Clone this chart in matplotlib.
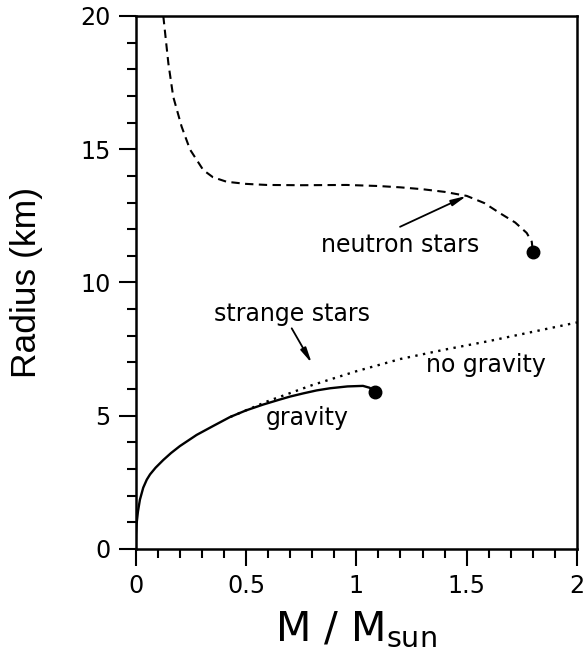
import numpy as np
import matplotlib
matplotlib.use("Agg")
import matplotlib.pyplot as plt

plt.rcParams['font.family'] = ['DejaVu Sans']
plt.rcParams['mathtext.fontset'] = 'dejavusans'

# neutron stars (dashed)
ns_mass = [0.125, 0.148, 0.170, 0.208, 0.246, 0.306, 0.35, 0.412, 0.5, 0.594,
           0.75, 0.956, 1.1, 1.2, 1.3, 1.4, 1.5, 1.58, 1.651, 1.72, 1.772, 1.795, 1.80]
ns_radius = [20.0, 18.22, 16.97, 15.85, 14.99, 14.22, 13.95, 13.78, 13.70, 13.66,
             13.65, 13.66, 13.62, 13.57, 13.5, 13.4, 13.25, 12.98, 12.6, 12.25, 11.86, 11.53, 11.16]

# strange stars with gravity (solid)
ss_mass = [0.0, 0.001, 0.004, 0.01, 0.019, 0.034, 0.05, 0.065, 0.09, 0.125, 0.16,
           0.2, 0.276, 0.352, 0.427, 0.5, 0.578, 0.65, 0.70, 0.76, 0.82, 0.88,
           0.96, 1.03, 1.06, 1.085]
ss_radius = [0.0, 0.55, 0.95, 1.4, 1.85, 2.3, 2.6, 2.8, 3.05, 3.34, 3.6,
             3.86, 4.28, 4.62, 4.95, 5.2, 5.42, 5.6, 5.72, 5.84, 5.95, 6.03,
             6.1, 6.12, 6.05, 5.88]

# strange stars without gravity (dotted)
ng_mass = [0.43, 0.6, 0.8, 1.0, 1.2, 1.4, 1.6, 1.8, 2.0]
ng_radius = [4.96, 5.55, 6.15, 6.67, 7.13, 7.48, 7.8, 8.15, 8.5]

# maximum mass configurations
max_mass = [1.80, 1.085]
max_radius = [11.16, 5.88]

fig = plt.figure(figsize=(5.83, 6.53), dpi=100)
ax = fig.add_axes([0.2328, 0.1593, 0.7569, 0.8162])

ax.plot(ns_mass, ns_radius, color='k', lw=1.5, ls=(0, (4, 2.6)))
ax.plot(ng_mass, ng_radius, color='k', lw=1.7, ls=(0, (1, 2.3)))
ax.plot(ss_mass, ss_radius, color='k', lw=1.7)
ax.plot(max_mass, max_radius, 'o', color='k', ms=9)

arrow = dict(arrowstyle='-|>,head_width=0.18,head_length=0.9', color='k',
             lw=1.3, shrinkA=0, shrinkB=0)
txt = dict(fontsize=17, ha='center', va='baseline')
ax.text(1.20, 11.13, 'neutron stars', **txt)
ax.annotate('', xy=(1.50, 13.25), xytext=(1.198, 12.09), arrowprops=arrow)
ax.text(0.707, 8.56, 'strange stars', **txt)
ax.annotate('', xy=(0.798, 6.97), xytext=(0.707, 8.28), arrowprops=arrow)
ax.text(1.588, 6.65, 'no gravity', **txt)
ax.text(0.779, 4.65, 'gravity', **txt)

ax.set_xlim(0, 2)
ax.set_ylim(0, 20)
ax.set_xticks([0, 0.5, 1, 1.5, 2])
ax.set_xticklabels(['0', '0.5', '1', '1.5', '2'])
ax.set_xticks(np.arange(0, 2.01, 0.1), minor=True)
ax.set_yticks([0, 5, 10, 15, 20])
ax.set_yticks(np.arange(0, 20.1, 1), minor=True)
ax.tick_params(which='both', direction='out', top=False, right=False,
               width=1.5, labelsize=17.2, pad=6)
ax.tick_params(which='major', length=12)
ax.tick_params(which='minor', length=6.5)
for s in ax.spines.values():
    s.set_linewidth(1.8)

ax.set_xlabel(r'M / M$_{\rm sun}$', fontsize=29.5, labelpad=8)
ax.set_ylabel('Radius (km)', fontsize=25.5, family='Liberation Sans', labelpad=27)

fig.savefig('out.png', dpi=100)
